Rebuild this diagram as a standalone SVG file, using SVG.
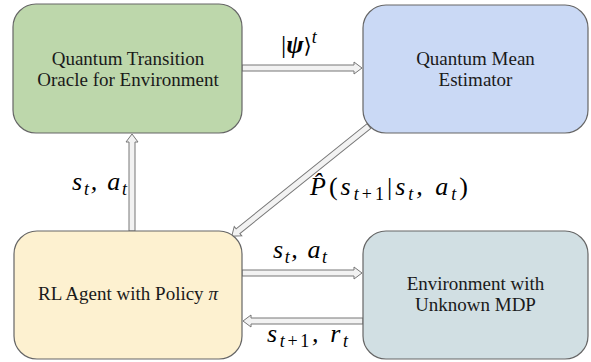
<svg xmlns="http://www.w3.org/2000/svg" width="591" height="362" viewBox="0 0 591 362">
<rect width="591" height="362" fill="#ffffff"/>
<g id="connectors" fill="#f2f2f2" stroke="#777777" stroke-width="1">
  <polygon points="242,65 354,65 354,62 362,68 354,74 354,71 242,71"/>
  <polygon points="129,231 129,142 126,142 132,134 138,142 135,142 135,231"/>
  <polygon transform="translate(369,126) rotate(141.24)" points="0,-3 168,-3 168,-6 176,0 168,6 168,3 0,3"/>
  <polygon points="242,270 354,270 354,267 362,273 354,279 354,276 242,276"/>
  <polygon points="363,318 251,318 251,315 243,321 251,327 251,324 363,324"/>
</g>
<g id="nodes" stroke="#666666" stroke-width="1.2">
<g id="oracle">
  <rect x="13" y="4" width="229" height="129" rx="23" fill="#bdd7ab"/>
  <text x="128" y="65" font-family="Liberation Serif" font-size="19" fill="#1a1a1a" stroke="none" text-anchor="middle">Quantum Transition</text>
  <text x="128" y="86" font-family="Liberation Serif" font-size="19" fill="#1a1a1a" stroke="none" text-anchor="middle">Oracle for Environment</text>
</g>
<g id="estimator">
  <rect x="363" y="5" width="225" height="128" rx="23" fill="#cad9f5"/>
  <text x="475.5" y="65" font-family="Liberation Serif" font-size="19" fill="#1a1a1a" stroke="none" text-anchor="middle">Quantum Mean</text>
  <text x="475.5" y="86" font-family="Liberation Serif" font-size="19" fill="#1a1a1a" stroke="none" text-anchor="middle">Estimator</text>
</g>
<g id="agent">
  <rect x="14" y="231" width="228" height="128" rx="23" fill="#fdf1d0"/>
  <text x="128" y="300" font-family="Liberation Serif" font-size="19" fill="#1a1a1a" stroke="none" text-anchor="middle">RL Agent with Policy <tspan font-style="italic">&#960;</tspan></text>
</g>
<g id="environment">
  <rect x="363" y="231" width="225" height="128" rx="23" fill="#d1dfe3"/>
  <text x="475.5" y="290" font-family="Liberation Serif" font-size="19" fill="#1a1a1a" stroke="none" text-anchor="middle">Environment with</text>
  <text x="475.5" y="311" font-family="Liberation Serif" font-size="19" fill="#1a1a1a" stroke="none" text-anchor="middle">Unknown MDP</text>
</g>
</g>
<g id="labels" font-family="Liberation Serif" font-style="italic" font-size="26" fill="#000">
  <text x="281" y="53" font-family="Liberation Serif"><tspan font-style="normal">|</tspan><tspan font-weight="bold">&#968;</tspan><tspan font-style="normal" font-family="DejaVu Serif" font-size="21">&#10217;</tspan><tspan font-size="18" dy="-10">t</tspan></text>
  <text x="72" y="190" font-family="Liberation Serif" textLength="55" lengthAdjust="spacing">s<tspan font-size="18" dy="5">t</tspan><tspan dy="-5">, a</tspan><tspan font-size="18" dy="5">t</tspan></text>
  <text x="273" y="258" font-family="Liberation Serif" textLength="54" lengthAdjust="spacing">s<tspan font-size="18" dy="5">t</tspan><tspan dy="-5">, a</tspan><tspan font-size="18" dy="5">t</tspan></text>
  <text x="267" y="342" font-family="Liberation Serif" textLength="81" lengthAdjust="spacing">s<tspan font-size="18" dy="5">t<tspan font-style="normal">+1</tspan></tspan><tspan dy="-5">, r</tspan><tspan font-size="18" dy="5">t</tspan></text>
  <text x="310" y="195" font-family="Liberation Serif" textLength="158" lengthAdjust="spacing">P&#770;<tspan font-style="normal">(</tspan>s<tspan font-size="18" dy="5">t<tspan font-style="normal">+1</tspan></tspan><tspan font-style="normal" dy="-5">|</tspan>s<tspan font-size="18" dy="5">t</tspan><tspan dy="-5">, a</tspan><tspan font-size="18" dy="5">t</tspan><tspan font-style="normal" dy="-5">)</tspan></text>
</g>
</svg>
